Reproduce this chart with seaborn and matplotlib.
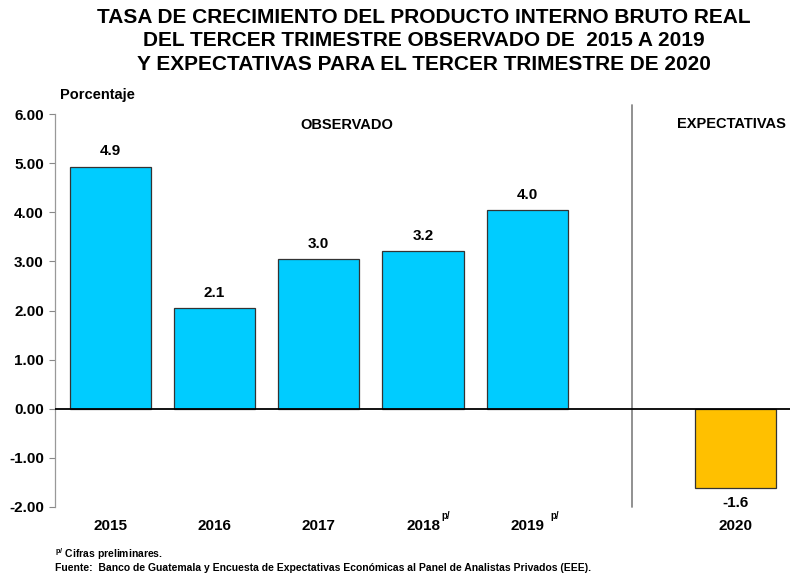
import matplotlib
matplotlib.use("Agg")
import matplotlib.pyplot as plt
import seaborn as sns
import pandas as pd
import numpy as np

categories = ["2015", "2016", "2017", "2018", "2019", "", "2020"]
superscripts = ["", "", "", "p/", "p/", "", ""]
values = [4.93, 2.05, 3.05, 3.21, 4.04, np.nan, -1.61]
groups = ["Observado", "Observado", "Observado", "Observado", "Observado", "Observado", "Expectativas"]
value_labels = ["4.9", "2.1", "3.0", "3.2", "4.0", "", "-1.6"]
yticks = [-2, -1, 0, 1, 2, 3, 4, 5, 6]

sns.set_style("white")
plt.rcParams["font.family"] = ["Liberation Sans", "DejaVu Sans"]
plt.rcParams["font.weight"] = "bold"
plt.rcParams["text.color"] = "black"
plt.rcParams["xtick.color"] = "black"
plt.rcParams["ytick.color"] = "black"
plt.rcParams["xtick.labelcolor"] = "black"
plt.rcParams["ytick.labelcolor"] = "black"
plt.rcParams["mathtext.fontset"] = "custom"
plt.rcParams["mathtext.rm"] = "Liberation Sans"
plt.rcParams["mathtext.bf"] = "Liberation Sans:bold"

df = pd.DataFrame({"cat": categories, "val": values, "grp": groups})

fig = plt.figure(figsize=(7.94, 5.77), dpi=100)
W, H = 794, 577
ax = fig.add_axes([55 / W, (H - 507) / H, (790 - 55) / W, (507 - 114) / H])

sns.barplot(data=df, x="cat", y="val", hue="grp", order=categories,
            palette={"Observado": "#00CCFF", "Expectativas": "#FFC000"},
            saturation=1, dodge=False, width=0.78, edgecolor="#333333", linewidth=0.9,
            legend=False, ax=ax)

ax.set_xlim(-0.53, 6.52)
ax.set_ylim(-2, 6)
ax.set_yticks(yticks)
ax.set_yticklabels([f"{v:.2f}" for v in yticks], fontsize=11, fontweight="bold")
ax.tick_params(axis="y", direction="out", length=4, width=0.8, color="#888888", pad=4, left=True)
ax.tick_params(axis="x", length=0, pad=9)
ax.set_xticks(range(len(categories)))
ax.set_xticklabels(categories, fontsize=11, fontweight="bold")
ax.set_xlabel("")
ax.set_ylabel("")

sup_offsets = {3: 13.5, 4: 16.5}
for i, sup in enumerate(superscripts):
    if sup:
        ax.annotate(sup, (i, -2), xytext=(sup_offsets.get(i, 14), -3), textcoords="offset points",
                    ha="left", va="top", fontsize=7, fontweight="bold", annotation_clip=False)

for s in ["top", "right", "bottom"]:
    ax.spines[s].set_visible(False)
ax.spines["left"].set_color("#999999")
ax.spines["left"].set_linewidth(0.9)

ax.axhline(0, color="black", lw=1.3, zorder=3)
ax.plot([5, 5], [-2, 6.18], color="#888888", lw=1.3, clip_on=False)

for i, (v, lab) in enumerate(zip(values, value_labels)):
    if not lab:
        continue
    if v >= 0:
        ax.annotate(lab, (i, v), xytext=(0, 6), textcoords="offset points",
                    ha="center", va="bottom", fontsize=11, fontweight="bold")
    else:
        ax.annotate(lab, (i, v), xytext=(0, -6), textcoords="offset points",
                    ha="center", va="top", fontsize=11, fontweight="bold")

ax.text(2.27, 5.78, "OBSERVADO", ha="center", va="center", fontsize=10.5, fontweight="bold")
ax.text(5.96, 5.8, "EXPECTATIVAS", ha="center", va="center", fontsize=10.5, fontweight="bold")

fig.text(60 / W, 1 - 95 / H, "Porcentaje", ha="left", va="center", fontsize=10.5, fontweight="bold")

fig.suptitle("TASA DE CRECIMIENTO DEL PRODUCTO INTERNO BRUTO REAL\n"
             "DEL TERCER TRIMESTRE OBSERVADO DE  2015 A 2019\n"
             "Y EXPECTATIVAS PARA EL TERCER TRIMESTRE DE 2020",
             x=424 / W, y=1 - 8 / H, ha="center", va="top", fontsize=15,
             fontweight="bold", linespacing=1.3)

fig.text(55 / W, 1 - 554 / H, r"$^{\mathbf{p/}}$ Cifras preliminares.", ha="left", va="center", fontsize=7.5, fontweight="bold")
fig.text(55 / W, 1 - 568 / H, "Fuente:  Banco de Guatemala y Encuesta de Expectativas Económicas al Panel de Analistas Privados (EEE).",
         ha="left", va="center", fontsize=7.5, fontweight="bold")

fig.savefig("out.png", dpi=100)
